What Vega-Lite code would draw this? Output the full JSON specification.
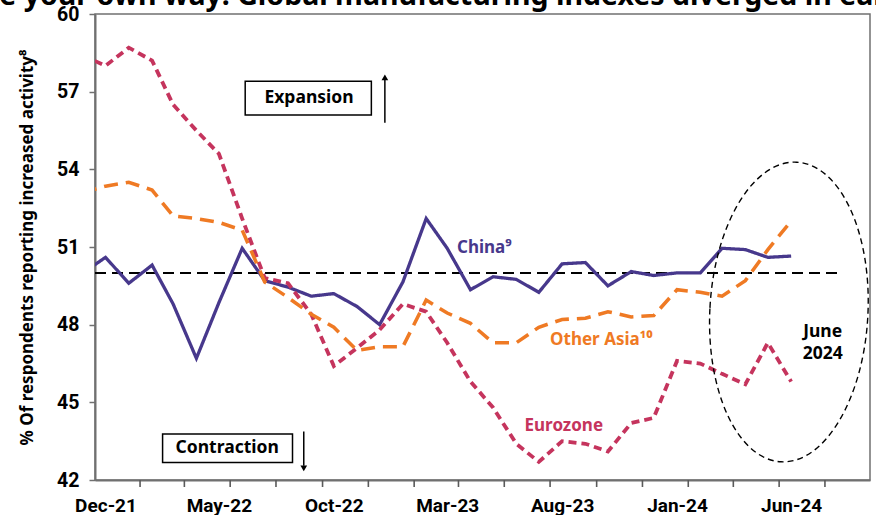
{
  "$schema": "https://vega.github.io/schema/vega-lite/v6.json",
  "width": 775,
  "height": 466,
  "autosize": {"type": "none"},
  "padding": {"left": 95, "top": 14, "right": 6, "bottom": 35},
  "background": "white",
  "config": {
    "view": {"stroke": "#707070", "strokeWidth": 1.5},
    "font": "Noto Sans"
  },
  "datasets": {
    "series": [
      {"m": "2021/11/01", "China": 50.0, "Eurozone": 58.4, "Other Asia": 53.1},
      {"m": "2021/12/01", "China": 50.6, "Eurozone": 58.0, "Other Asia": 53.35},
      {"m": "2022/01/01", "China": 49.6, "Eurozone": 58.7, "Other Asia": 53.5},
      {"m": "2022/02/01", "China": 50.3, "Eurozone": 58.2, "Other Asia": 53.2},
      {"m": "2022/03/01", "China": 48.8, "Eurozone": 56.5, "Other Asia": 52.2},
      {"m": "2022/04/01", "China": 46.7, "Eurozone": 55.5, "Other Asia": 52.1},
      {"m": "2022/05/01", "China": 48.85, "Eurozone": 54.6, "Other Asia": 51.95},
      {"m": "2022/06/01", "China": 50.95, "Eurozone": 52.1, "Other Asia": 51.65},
      {"m": "2022/07/01", "China": 49.7, "Eurozone": 49.8, "Other Asia": 49.65},
      {"m": "2022/08/01", "China": 49.45, "Eurozone": 49.6, "Other Asia": 49.05},
      {"m": "2022/09/01", "China": 49.1, "Eurozone": 48.4, "Other Asia": 48.4},
      {"m": "2022/10/01", "China": 49.2, "Eurozone": 46.4, "Other Asia": 47.9},
      {"m": "2022/11/01", "China": 48.7, "Eurozone": 47.1, "Other Asia": 47.0},
      {"m": "2022/12/01", "China": 48.0, "Eurozone": 47.8, "Other Asia": 47.15},
      {"m": "2023/01/01", "China": 49.65, "Eurozone": 48.8, "Other Asia": 47.15},
      {"m": "2023/02/01", "China": 52.1, "Eurozone": 48.5, "Other Asia": 48.95},
      {"m": "2023/03/01", "China": 50.95, "Eurozone": 47.3, "Other Asia": 48.45},
      {"m": "2023/04/01", "China": 49.35, "Eurozone": 45.8, "Other Asia": 48.05},
      {"m": "2023/05/01", "China": 49.85, "Eurozone": 44.8, "Other Asia": 47.3},
      {"m": "2023/06/01", "China": 49.75, "Eurozone": 43.4, "Other Asia": 47.3},
      {"m": "2023/07/01", "China": 49.25, "Eurozone": 42.7, "Other Asia": 47.9},
      {"m": "2023/08/01", "China": 50.35, "Eurozone": 43.5, "Other Asia": 48.2},
      {"m": "2023/09/01", "China": 50.4, "Eurozone": 43.4, "Other Asia": 48.25},
      {"m": "2023/10/01", "China": 49.5, "Eurozone": 43.1, "Other Asia": 48.5},
      {"m": "2023/11/01", "China": 50.05, "Eurozone": 44.2, "Other Asia": 48.3},
      {"m": "2023/12/01", "China": 49.9, "Eurozone": 44.4, "Other Asia": 48.35},
      {"m": "2024/01/01", "China": 50.0, "Eurozone": 46.6, "Other Asia": 49.35},
      {"m": "2024/02/01", "China": 50.0, "Eurozone": 46.5, "Other Asia": 49.25},
      {"m": "2024/03/01", "China": 50.95, "Eurozone": 46.1, "Other Asia": 49.1},
      {"m": "2024/04/01", "China": 50.9, "Eurozone": 45.7, "Other Asia": 49.7},
      {"m": "2024/05/01", "China": 50.6, "Eurozone": 47.3, "Other Asia": 50.9},
      {"m": "2024/06/01", "China": 50.65, "Eurozone": 45.8, "Other Asia": 52.0}
    ],
    "ref": [{"d1": "2021/11/17", "d2": "2024/08/05", "v": 50}],
    "xticks": [
      {"d": "2022/01/16"}, {"d": "2022/03/16"}, {"d": "2022/05/16"}, {"d": "2022/07/16"},
      {"d": "2022/09/16"}, {"d": "2022/11/16"}, {"d": "2023/01/16"}, {"d": "2023/03/16"},
      {"d": "2023/05/16"}, {"d": "2023/07/16"}, {"d": "2023/09/16"}, {"d": "2023/11/16"},
      {"d": "2024/01/16"}, {"d": "2024/03/16"}, {"d": "2024/05/16"}, {"d": "2024/07/16"}
    ],
    "headline": [
      {"d": "2021/03/19", "v": 60.36, "t": "Choose your own way: Global manufacturing indexes diverged in earnest"}
    ],
    "boxes": [
      {"x1": "2022/06/05", "x2": "2022/11/20", "y1": 57.4, "y2": 56.1},
      {"x1": "2022/02/15", "x2": "2022/08/07", "y1": 43.78, "y2": 42.68}
    ],
    "boxlabels": [
      {"d": "2022/08/29", "v": 56.75, "t": "Expansion"},
      {"d": "2022/05/12", "v": 43.23, "t": "Contraction"}
    ],
    "arrows": [
      {"d": "2022/12/08", "v1": 55.8, "v2": 57.45, "head": 57.55, "dir": "up"},
      {"d": "2022/08/22", "v1": 43.87, "v2": 42.55, "head": 42.45, "dir": "down"}
    ],
    "labels": [
      {"d": "2023/03/14", "v": 50.97, "t": "China⁹", "s": "China"},
      {"d": "2023/07/16", "v": 47.41, "t": "Other Asia¹⁰", "s": "Other Asia"},
      {"d": "2023/06/12", "v": 44.09, "t": "Eurozone", "s": "Eurozone"}
    ],
    "june": [
      {"d": "2024/07/13", "v": 47.72, "t": "June"},
      {"d": "2024/07/13", "v": 46.87, "t": "2024"}
    ],
    "ellipse": [{"d": "2024/05/29", "v": 48.49}]
  },
  "layer": [
    {
      "data": {"name": "ref"},
      "mark": {"type": "rule", "color": "black", "strokeWidth": 2, "strokeDash": [11, 6]},
      "encoding": {
        "x": {"field": "d1", "type": "temporal",
          "scale": {"domain": [{"year": 2021, "month": 11, "date": 17}, {"year": 2024, "month": 9, "date": 14}]},
          "axis": {
            "title": null,
            "grid": false,
            "values": [
              {"year": 2021, "month": 12, "date": 1},
              {"year": 2022, "month": 5, "date": 1},
              {"year": 2022, "month": 10, "date": 1},
              {"year": 2023, "month": 3, "date": 1},
              {"year": 2023, "month": 8, "date": 1},
              {"year": 2024, "month": 1, "date": 1},
              {"year": 2024, "month": 6, "date": 1}
            ],
            "format": "%b-%y",
            "ticks": false,
            "domainColor": "#707070",
            "domainWidth": 2,
            "labelFont": "Roboto",
            "labelFontWeight": "bold",
            "labelFontSize": 19,
            "labelColor": "black",
            "labelPadding": 16,
            "labelFlush": false,
            "labelOverlap": false
          }
        },
        "x2": {"field": "d2"},
        "y": {"field": "v", "type": "quantitative",
          "scale": {"domain": [42, 60], "nice": false, "zero": false},
          "axis": {
            "title": "% Of respondents reporting increased activity⁸",
            "titleFont": "Noto Sans",
            "titleFontWeight": "bold",
            "titleFontSize": 17,
            "titleColor": "black",
            "titlePadding": 20,
            "grid": false,
            "values": [42, 45, 48, 51, 54, 57, 60],
            "tickSize": 6,
            "tickWidth": 1.5,
            "tickColor": "#707070",
            "domainColor": "#707070",
            "domainWidth": 2,
            "labelFont": "Roboto",
            "labelFontWeight": "bold",
            "labelFontSize": 19.5,
            "labelColor": "black",
            "labelPadding": 10,
            "labelFlush": false
          }
        }
      }
    },
    {
      "data": {"name": "xticks"},
      "mark": {"type": "rule", "color": "#5a5a5a", "strokeWidth": 1.6, "clip": false},
      "encoding": {
        "x": {"field": "d", "type": "temporal"},
        "y": {"datum": 42, "type": "quantitative"},
        "y2": {"datum": 41.73}
      }
    },
    {
      "data": {"name": "headline"},
      "mark": {"type": "text", "font": "Noto Sans", "fontWeight": "bold", "fontSize": 28.5, "color": "black", "align": "left", "baseline": "alphabetic", "clip": false},
      "encoding": {
        "x": {"field": "d", "type": "temporal"},
        "y": {"field": "v", "type": "quantitative"},
        "text": {"field": "t"}
      }
    },
    {
      "data": {"name": "series"},
      "transform": [{"fold": ["China", "Eurozone", "Other Asia"], "as": ["s", "val"]}],
      "mark": {"type": "line", "clip": true},
      "encoding": {
        "x": {"field": "m", "type": "temporal"},
        "y": {"field": "val", "type": "quantitative"},
        "color": {"field": "s", "type": "nominal", "scale": {"domain": ["China", "Other Asia", "Eurozone"], "range": ["#47388C", "#EF7A24", "#C5345D"]}, "legend": null},
        "strokeDash": {"field": "s", "type": "nominal", "scale": {"domain": ["China", "Other Asia", "Eurozone"], "range": [[1, 0], [14, 8], [8, 5]]}, "legend": null},
        "strokeWidth": {"field": "s", "type": "nominal", "scale": {"domain": ["China", "Other Asia", "Eurozone"], "range": [3.3, 3.8, 3.8]}, "legend": null}
      }
    },
    {
      "data": {"name": "boxes"},
      "mark": {"type": "rect", "fill": "white", "stroke": "black", "strokeWidth": 1.5},
      "encoding": {
        "x": {"field": "x1", "type": "temporal"},
        "x2": {"field": "x2"},
        "y": {"field": "y1", "type": "quantitative"},
        "y2": {"field": "y2"}
      }
    },
    {
      "data": {"name": "boxlabels"},
      "mark": {"type": "text", "font": "Noto Sans", "fontWeight": "bold", "fontSize": 17.5, "color": "black", "align": "center", "baseline": "middle"},
      "encoding": {
        "x": {"field": "d", "type": "temporal"},
        "y": {"field": "v", "type": "quantitative"},
        "text": {"field": "t"}
      }
    },
    {
      "data": {"name": "arrows"},
      "mark": {"type": "rule", "color": "black", "strokeWidth": 1.5},
      "encoding": {
        "x": {"field": "d", "type": "temporal"},
        "y": {"field": "v1", "type": "quantitative"},
        "y2": {"field": "v2"}
      }
    },
    {
      "data": {"name": "arrows"},
      "mark": {"type": "point", "filled": true, "color": "black", "size": 45, "opacity": 1},
      "encoding": {
        "x": {"field": "d", "type": "temporal"},
        "y": {"field": "head", "type": "quantitative"},
        "shape": {"field": "dir", "type": "nominal", "scale": {"domain": ["up", "down"], "range": ["triangle-up", "triangle-down"]}, "legend": null}
      }
    },
    {
      "data": {"name": "labels"},
      "mark": {"type": "text", "font": "Noto Sans", "fontWeight": "bold", "fontSize": 17, "align": "left", "baseline": "middle"},
      "encoding": {
        "x": {"field": "d", "type": "temporal"},
        "y": {"field": "v", "type": "quantitative"},
        "text": {"field": "t"},
        "color": {"field": "s", "type": "nominal", "legend": null}
      }
    },
    {
      "data": {"name": "june"},
      "mark": {"type": "text", "font": "Noto Sans", "fontWeight": "bold", "fontSize": 17.5, "color": "black", "align": "center", "baseline": "middle"},
      "encoding": {
        "x": {"field": "d", "type": "temporal"},
        "y": {"field": "v", "type": "quantitative"},
        "text": {"field": "t"}
      }
    },
    {
      "data": {"name": "ellipse"},
      "mark": {
        "type": "point",
        "shape": "M -0.527 0 A 0.527 1 0 1 1 0.527 0 A 0.527 1 0 1 1 -0.527 0 Z",
        "size": 90000,
        "filled": false,
        "stroke": "black",
        "strokeWidth": 1.4,
        "strokeDash": [6, 4],
        "opacity": 1,
        "angle": 3
      },
      "encoding": {
        "x": {"field": "d", "type": "temporal"},
        "y": {"field": "v", "type": "quantitative"}
      }
    }
  ]
}
